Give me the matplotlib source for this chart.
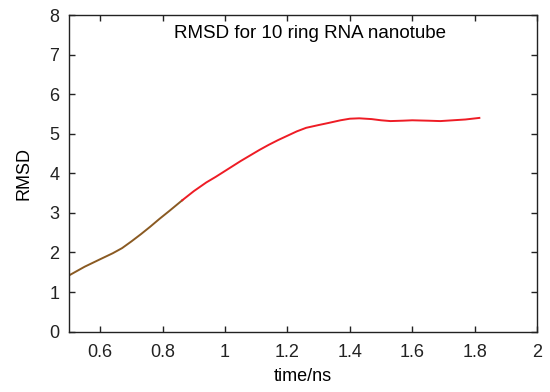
import matplotlib
matplotlib.use("Agg")
import matplotlib.pyplot as plt

plt.rcParams['font.family'] = ['Liberation Sans', 'DejaVu Sans']

# early part of trajectory (brown)
t_a = [0.50, 0.55, 0.60, 0.64, 0.67, 0.70, 0.73, 0.76, 0.79, 0.82, 0.863]
rmsd_a = [1.42, 1.64, 1.83, 1.98, 2.11, 2.28, 2.46, 2.65, 2.85, 3.04, 3.32]
# later part (red)
t_b = [0.863, 0.90, 0.94, 0.97, 1.01, 1.05, 1.08, 1.11, 1.14, 1.17, 1.20, 1.23,
       1.26, 1.30, 1.33, 1.37, 1.40, 1.43, 1.47, 1.50, 1.53, 1.57, 1.60, 1.65,
       1.69, 1.73, 1.77, 1.815]
rmsd_b = [3.32, 3.55, 3.77, 3.91, 4.11, 4.31, 4.45, 4.59, 4.72, 4.84, 4.95, 5.06,
          5.15, 5.22, 5.27, 5.34, 5.38, 5.39, 5.37, 5.34, 5.32, 5.33, 5.34, 5.33,
          5.32, 5.34, 5.36, 5.40]

xticks = [0.6, 0.8, 1, 1.2, 1.4, 1.6, 1.8, 2]
xticklabels = ['0.6', '0.8', '1', '1.2', '1.4', '1.6', '1.8', '2']
yticks = [0, 1, 2, 3, 4, 5, 6, 7, 8]

fig = plt.figure(figsize=(5.5, 3.92), dpi=100)
ax = fig.add_axes([0.1255, 0.154, 0.851, 0.8077])

ax.plot(t_a, rmsd_a, color='#8a5a22', lw=1.4, solid_joinstyle='round')
ax.plot(t_b, rmsd_b, color='#ee1c25', lw=1.4, solid_joinstyle='round')

ax.set_xlim(0.5, 2)
ax.set_ylim(0, 8)
ax.set_xticks(xticks)
ax.set_xticklabels(xticklabels)
ax.set_yticks(yticks)
ax.tick_params(direction='in', top=True, right=True, length=4.5, width=1,
               labelsize=13, colors='#222222')
ax.tick_params(axis='x', pad=9)
ax.tick_params(axis='y', pad=7)
for s in ax.spines.values():
    s.set_linewidth(1)
    s.set_color('#222222')

ax.set_xlabel('time/ns', fontsize=13, labelpad=5)
ax.set_ylabel('RMSD', fontsize=13, labelpad=12)
ax.text(310 / 550, 1 - 33 / 392, 'RMSD for 10 ring RNA nanotube',
        transform=fig.transFigure, ha='center', va='center', fontsize=13.5)

fig.savefig('out.png', dpi=100)
